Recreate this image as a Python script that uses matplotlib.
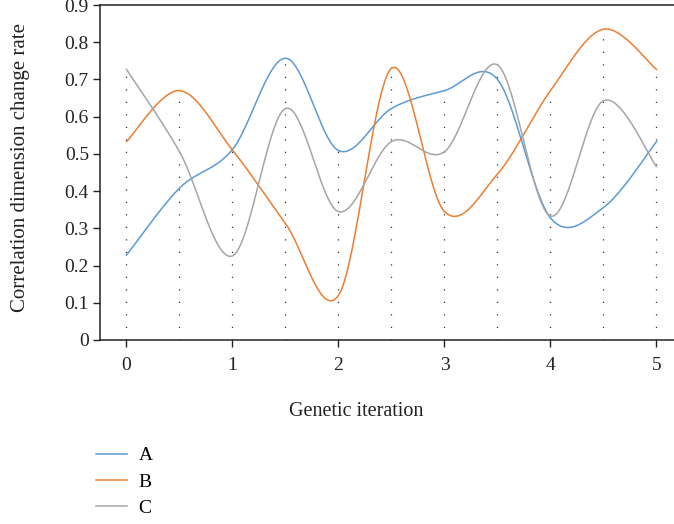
import numpy as np
import matplotlib
matplotlib.use('Agg')
import matplotlib.pyplot as plt

plt.rcParams['font.family'] = ['Liberation Serif', 'DejaVu Serif']

# data
iterations = [0, 0.5, 1, 1.5, 2, 2.5, 3, 3.5, 4, 4.5, 5]
series_a = [0.228, 0.408, 0.512, 0.757, 0.509, 0.622, 0.670, 0.700, 0.328, 0.356, 0.533]
series_b = [0.533, 0.670, 0.510, 0.313, 0.120, 0.730, 0.345, 0.446, 0.670, 0.835, 0.727]
series_c = [0.727, 0.506, 0.226, 0.622, 0.345, 0.533, 0.506, 0.739, 0.333, 0.643, 0.466]
labels = ['A', 'B', 'C']
colors = ['#5B9BD5', '#ED7D31', '#A5A5A5']
y_ticks = [0, 0.1, 0.2, 0.3, 0.4, 0.5, 0.6, 0.7, 0.8, 0.9]
x_ticks = [0, 1, 2, 3, 4, 5]


def smooth(xs, ys, n=40):
    # catmull-rom style smoothing like the spreadsheet "smoothed line"
    xs = np.asarray(xs, float)
    ys = np.asarray(ys, float)
    px = np.concatenate([[xs[0]], xs, [xs[-1]]])
    py = np.concatenate([[ys[0]], ys, [ys[-1]]])
    out_x, out_y = [], []
    t = np.linspace(0, 1, n)
    for i in range(1, len(px) - 2):
        for p, out in ((px, out_x), (py, out_y)):
            p0, p1, p2, p3 = p[i - 1], p[i], p[i + 1], p[i + 2]
            seg = 0.5 * ((2 * p1) + (-p0 + p2) * t
                         + (2 * p0 - 5 * p1 + 4 * p2 - p3) * t ** 2
                         + (-p0 + 3 * p1 - 3 * p2 + p3) * t ** 3)
            out.append(seg)
    return np.concatenate(out_x), np.concatenate(out_y)


fig = plt.figure(figsize=(6.74, 5.24), dpi=100)
ax = fig.add_axes([100 / 674, 184 / 524, 583 / 674, 335 / 524])

all_series = [series_a, series_b, series_c]
tops = np.max(np.array(all_series), axis=0)
for xv, top in zip(iterations, tops):
    ax.plot([xv, xv], [0, top], color='#333333', linewidth=0.9,
            linestyle=(0, (1, 9)), zorder=1)

for ys, lab, col in zip(all_series, labels, colors):
    sx, sy = smooth(iterations, ys)
    ax.plot(sx, sy, color=col, linewidth=1.1, label=lab, zorder=2)

ax.set_xlim(-0.25, 5.25)
ax.set_ylim(0, 0.9)
ax.set_xticks(x_ticks)
ax.set_xticklabels([str(v) for v in x_ticks])
ax.set_yticks(y_ticks)
ax.set_yticklabels(['0'] + [f'{v:.1f}' for v in y_ticks[1:]])
ax.tick_params(axis='both', direction='out', length=5, width=1.0,
               labelsize=14, colors='#222222')
ax.tick_params(axis='x', pad=7)
ax.tick_params(axis='y', pad=3)
for side in ['left', 'bottom', 'top', 'right']:
    ax.spines[side].set_linewidth(1.1)
    ax.spines[side].set_color('#222222')

ax.set_ylabel('Correlation dimension change rate', fontsize=15, color='#222222')
ax.yaxis.set_label_coords(-0.12, 0.515)
fig.text(356 / 674, 1 - 411 / 524, 'Genetic iteration', fontsize=14.5,
         color='#222222', ha='center', va='center')

handles, hl = ax.get_legend_handles_labels()
fig.legend(handles, hl, loc='upper left', bbox_to_anchor=(88 / 674, 1 - 439 / 524),
           frameon=False, fontsize=14, handlelength=1.6, handletextpad=0.6,
           labelspacing=0.45, borderaxespad=0)

plt.savefig('out.png', dpi=100)
plt.close()
